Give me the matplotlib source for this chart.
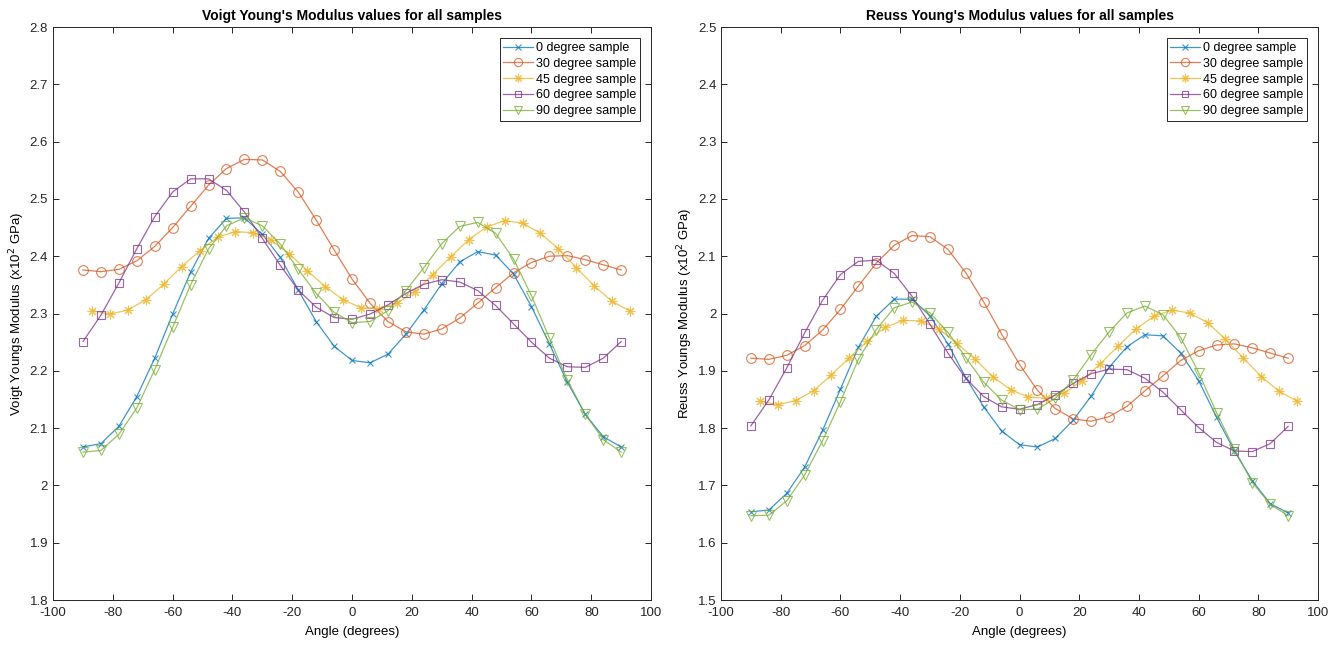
import matplotlib.pyplot as plt
import numpy as np
from matplotlib.ticker import FormatStrFormatter

plt.rcParams['font.family'] = ['Liberation Sans', 'DejaVu Sans']
plt.rcParams['axes.unicode_minus'] = False

# angles (degrees); the 45 degree sample is offset by 3 degrees
angles = np.arange(-90, 91, 6)
angles_45 = np.arange(-87, 94, 6)

labels = ['0 degree sample', '30 degree sample', '45 degree sample',
          '60 degree sample', '90 degree sample']

# Voigt Young's modulus (x10^2 GPa)
voigt_0 = [2.067, 2.073, 2.103, 2.155, 2.222, 2.299, 2.372, 2.431, 2.466, 2.467, 2.438,
           2.398, 2.341, 2.286, 2.243, 2.218, 2.214, 2.229, 2.264, 2.306, 2.352, 2.390,
           2.408, 2.402, 2.369, 2.312, 2.247, 2.180, 2.124, 2.085, 2.067]
voigt_30 = [2.376, 2.373, 2.377, 2.392, 2.417, 2.450, 2.487, 2.524, 2.553, 2.569, 2.568,
            2.548, 2.512, 2.463, 2.411, 2.360, 2.318, 2.286, 2.268, 2.264, 2.273, 2.292,
            2.318, 2.345, 2.371, 2.389, 2.400, 2.401, 2.394, 2.385, 2.376]
voigt_45 = [2.305, 2.299, 2.306, 2.324, 2.351, 2.382, 2.409, 2.433, 2.443, 2.441, 2.428,
            2.404, 2.375, 2.347, 2.324, 2.310, 2.308, 2.318, 2.338, 2.368, 2.399, 2.429,
            2.451, 2.462, 2.458, 2.440, 2.413, 2.380, 2.348, 2.321, 2.304]
voigt_60 = [2.251, 2.297, 2.353, 2.413, 2.469, 2.512, 2.535, 2.535, 2.515, 2.477, 2.431,
            2.384, 2.341, 2.311, 2.293, 2.290, 2.299, 2.315, 2.335, 2.351, 2.359, 2.355,
            2.340, 2.314, 2.282, 2.250, 2.222, 2.207, 2.206, 2.222, 2.251]
voigt_90 = [2.058, 2.061, 2.089, 2.135, 2.202, 2.276, 2.350, 2.413, 2.453, 2.467, 2.453,
            2.421, 2.377, 2.335, 2.302, 2.284, 2.286, 2.305, 2.340, 2.380, 2.422, 2.452,
            2.459, 2.440, 2.395, 2.331, 2.257, 2.184, 2.124, 2.080, 2.058]

# Reuss Young's modulus (x10^2 GPa)
reuss_0 = [1.654, 1.657, 1.686, 1.732, 1.796, 1.868, 1.941, 1.995, 2.025, 2.025, 1.996,
           1.947, 1.888, 1.837, 1.795, 1.771, 1.767, 1.782, 1.814, 1.856, 1.906, 1.942,
           1.963, 1.961, 1.931, 1.883, 1.819, 1.760, 1.708, 1.668, 1.652]
reuss_30 = [1.922, 1.920, 1.927, 1.944, 1.971, 2.007, 2.048, 2.088, 2.119, 2.136, 2.134,
            2.112, 2.071, 2.020, 1.964, 1.911, 1.866, 1.834, 1.816, 1.812, 1.820, 1.838,
            1.865, 1.891, 1.918, 1.935, 1.945, 1.947, 1.940, 1.931, 1.922]
reuss_45 = [1.847, 1.841, 1.848, 1.865, 1.893, 1.923, 1.952, 1.976, 1.988, 1.987, 1.973,
            1.948, 1.921, 1.890, 1.867, 1.854, 1.852, 1.861, 1.883, 1.912, 1.943, 1.973,
            1.995, 2.006, 2.001, 1.984, 1.955, 1.922, 1.890, 1.864, 1.847]
reuss_60 = [1.804, 1.849, 1.905, 1.966, 2.023, 2.068, 2.091, 2.093, 2.070, 2.030, 1.981,
            1.931, 1.887, 1.855, 1.837, 1.833, 1.841, 1.858, 1.878, 1.895, 1.903, 1.902,
            1.887, 1.863, 1.832, 1.801, 1.775, 1.760, 1.759, 1.773, 1.803]
reuss_90 = [1.647, 1.648, 1.673, 1.718, 1.778, 1.846, 1.920, 1.972, 2.010, 2.020, 2.001,
            1.967, 1.923, 1.880, 1.849, 1.832, 1.833, 1.852, 1.884, 1.928, 1.968, 2.001,
            2.013, 1.998, 1.958, 1.897, 1.827, 1.763, 1.705, 1.667, 1.647]

colors = ['#0072BD', '#D95319', '#EDB120', '#7E2F8E', '#77AC30']
markers = ['x', 'o', (8, 2, 0), 's', 'v']   # (8,2,0) ~ MATLAB '*'
msizes = [5, 7, 7, 5.5, 7]


def draw(ax, series, title, ylabel, ylim):
    xs = [angles, angles, angles_45, angles, angles]
    for x, y, c, m, ms, lab in zip(xs, series, colors, markers, msizes, labels):
        ax.plot(x, y, color=c, marker=m, ms=ms, mfc='none', mec=c, mew=0.8,
                lw=0.9, alpha=0.75, label=lab)
    ax.set_xlim(-100, 100)
    ax.set_ylim(*ylim)
    ax.set_xticks(np.arange(-100, 101, 20))
    ax.set_yticks(np.arange(ylim[0], ylim[1] + 0.001, 0.1))
    ax.yaxis.set_major_formatter(FormatStrFormatter('%g'))
    ax.tick_params(direction='in', top=True, right=True, length=4, width=0.7,
                   labelsize=9.5, colors='#262626')
    ax.tick_params(axis='x', pad=5)
    for s in ax.spines.values():
        s.set_color('#262626')
        s.set_linewidth(0.7)
    ax.set_title(title, fontsize=10, fontweight='bold', pad=5)
    ax.set_xlabel('Angle (degrees)', fontsize=9.5, labelpad=5)
    ax.set_ylabel(ylabel, fontsize=9.5, labelpad=2)
    leg = ax.legend(loc='upper right', fontsize=9, fancybox=False, framealpha=1,
                    edgecolor='#262626', borderaxespad=0.9, handlelength=2.4,
                    borderpad=0.3, labelspacing=0.3, handletextpad=0.2,
                    markerscale=0.85)
    leg.get_frame().set_linewidth(0.7)


fig = plt.figure(figsize=(13.43, 6.46), dpi=100)
ax1 = fig.add_axes([0.0395, 0.0712, 0.4453, 0.887])
ax2 = fig.add_axes([0.5369, 0.0712, 0.4445, 0.887])

draw(ax1, [voigt_0, voigt_30, voigt_45, voigt_60, voigt_90],
     "Voigt Young's Modulus values for all samples",
     'Voigt Youngs Modulus (x10$^{2}$ GPa)', (1.8, 2.8))
draw(ax2, [reuss_0, reuss_30, reuss_45, reuss_60, reuss_90],
     "Reuss Young's Modulus values for all samples",
     'Reuss Youngs Modulus (x10$^{2}$ GPa)', (1.5, 2.5))

fig.savefig('out.png', dpi=100)
